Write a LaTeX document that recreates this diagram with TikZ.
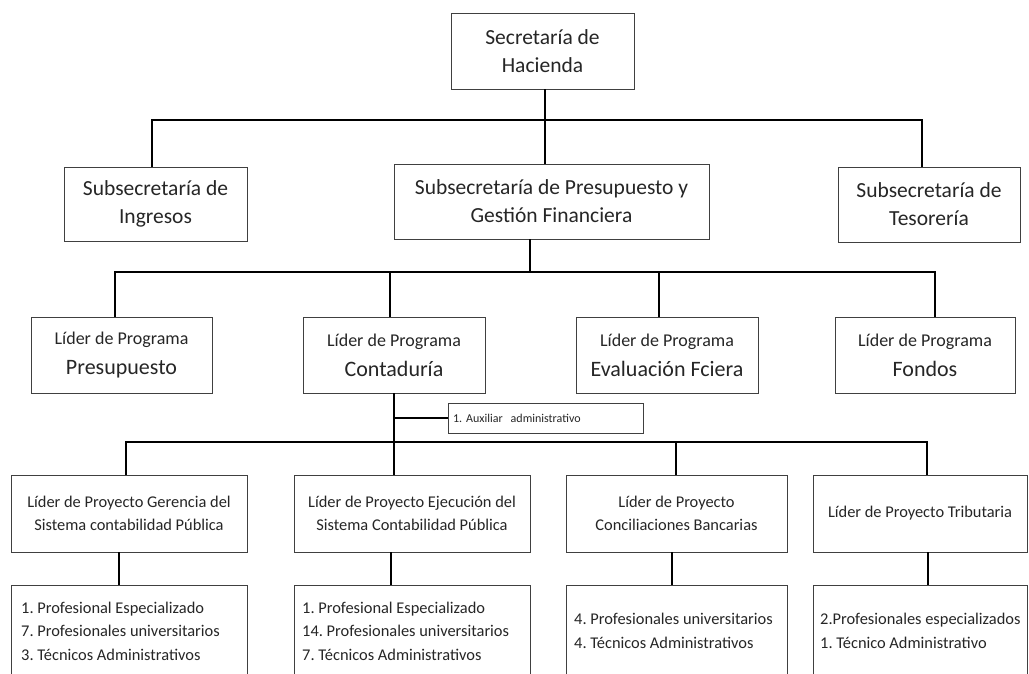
\documentclass[tikz,border=0pt]{standalone}
\usepackage{fontspec}
\setmainfont{Carlito}
\frenchspacing
\begin{document}
\begin{tikzpicture}[x=1pt,y=-1pt,
  box/.style={draw=black!75,line width=0.8pt,rectangle,align=center,inner sep=2pt,text=black!85},
  conn/.style={draw=black,line width=1.8pt},
  tl/.style={font=\fontsize{21.5}{28}\selectfont},
  sm/.style={font=\fontsize{16.4}{23}\selectfont},
  lp/.style={font=\fontsize{18}{30}\selectfont},
  lst/.style={font=\fontsize{16.4}{23.5}\selectfont,align=left,anchor=base west,inner sep=0pt,text=black!85}]
\clip (0,0) rectangle (1029,674);
\fill[white] (0,0) rectangle (1029,674);
% level 1
\node[box,tl,minimum width=183pt,minimum height=76pt] (top) at (542.5,51) {Secretaría de\\Hacienda};
% level 2
\node[box,tl,minimum width=183pt,minimum height=74pt] (ing) at (155.5,204) {Subsecretaría de\\Ingresos};
\node[box,tl,minimum width=315pt,minimum height=75pt] (pre) at (551.5,201.5) {Subsecretaría de Presupuesto y\\Gestión Financiera};
\node[box,tl,minimum width=182pt,minimum height=75pt] (tes) at (929,204.5) {Subsecretaría de\\Tesorería};
% level 3
\node[box,lp,minimum width=181pt,minimum height=76pt] (p1) at (121.5,355) {Líder de Programa\\{\fontsize{22}{30}\selectfont Presupuesto}};
\node[box,lp,minimum width=182pt,minimum height=76pt] (p2) at (394,355) {Líder de Programa\\{\fontsize{22}{30}\selectfont Contaduría}};
\node[box,lp,minimum width=182pt,minimum height=76pt] (p3) at (667,355) {Líder de Programa\\{\fontsize{22}{30}\selectfont Evaluación Fciera}};
\node[box,lp,minimum width=180pt,minimum height=76pt] (p4) at (925,355) {Líder de Programa\\{\fontsize{22}{30}\selectfont Fondos}};
% auxiliar
\node[box,minimum width=195pt,minimum height=30pt,font=\fontsize{12}{14}\selectfont,text width=185pt,align=left] (aux) at (545.5,418) {1. Auxiliar\ \ administrativo};
% level 4
\node[box,sm,minimum width=236pt,minimum height=77pt] (q1) at (129,513.5) {Líder de Proyecto Gerencia del\\Sistema contabilidad Pública};
\node[box,sm,minimum width=236pt,minimum height=77pt] (q2) at (412,513.5) {Líder de Proyecto Ejecución del\\Sistema Contabilidad Pública};
\node[box,sm,minimum width=221pt,minimum height=77pt] (q3) at (676.5,513.5) {Líder de Proyecto\\Conciliaciones Bancarias};
\node[box,sm,minimum width=214pt,minimum height=77pt] (q4) at (920,513.5) {Líder de Proyecto Tributaria};
% level 5 boxes (run past the bottom edge)
\node[box,minimum width=236pt,minimum height=110pt,anchor=north] (r1) at (129,585) {};
\node[box,minimum width=236pt,minimum height=110pt,anchor=north] (r2) at (412,585) {};
\node[box,minimum width=221pt,minimum height=110pt,anchor=north] (r3) at (676.5,585) {};
\node[box,minimum width=214pt,minimum height=110pt,anchor=north] (r4) at (920,585) {};
\node[lst] (t1) at (21,660) {1. Profesional Especializado\\7. Profesionales universitarios\\3. Técnicos Administrativos};
\node[lst] (t2) at (302,660) {1. Profesional Especializado\\14. Profesionales universitarios\\7. Técnicos Administrativos};
\node[lst] (t3) at (574,648) {4. Profesionales universitarios\\4. Técnicos Administrativos};
\node[lst] (t4) at (820,648) {2.Profesionales especializados\\1. Técnico Administrativo};
% guide coordinates for the connector lines
\coordinate (h1) at (0,120);
\coordinate (h2) at (0,272);
\coordinate (h3) at (0,442);
\coordinate (ha) at (0,418);
\coordinate (xa) at (545,0);
\coordinate (xb) at (152,0);
\coordinate (xc) at (922,0);
\coordinate (xd) at (530,0);
\coordinate (xe) at (115,0);
\coordinate (xf) at (390,0);
\coordinate (xg) at (659,0);
\coordinate (xh) at (935,0);
\coordinate (xi) at (394,0);
\coordinate (xj) at (126,0);
\coordinate (xk) at (676,0);
\coordinate (xl) at (927,0);
\coordinate (xm) at (119,0);
\coordinate (xn) at (391,0);
\coordinate (xo) at (672,0);
\coordinate (xp) at (928,0);
% level 1-2
\draw[conn] (top.south -| xa) -- (h1 -| xa);
\draw[conn] (ing.north -| xb) -- (h1 -| xb) -- (h1 -| xc) -- (tes.north -| xc);
\draw[conn] (pre.north -| xa) -- (h1 -| xa);
% level 2-3
\draw[conn] (pre.south -| xd) -- (h2 -| xd);
\draw[conn] (p1.north -| xe) -- (h2 -| xe) -- (h2 -| xh) -- (p4.north -| xh);
\draw[conn] (p2.north -| xf) -- (h2 -| xf);
\draw[conn] (p3.north -| xg) -- (h2 -| xg);
% level 3-4
\draw[conn] (p2.south -| xi) -- (q2.north -| xi);
\draw[conn] (ha -| xi) -- (aux.west);
\draw[conn] (q1.north -| xj) -- (h3 -| xj) -- (h3 -| xl) -- (q4.north -| xl);
\draw[conn] (q3.north -| xk) -- (h3 -| xk);
% level 4-5
\draw[conn] (q1.south -| xm) -- (r1.north -| xm);
\draw[conn] (q2.south -| xn) -- (r2.north -| xn);
\draw[conn] (q3.south -| xo) -- (r3.north -| xo);
\draw[conn] (q4.south -| xp) -- (r4.north -| xp);
\end{tikzpicture}
\end{document}
